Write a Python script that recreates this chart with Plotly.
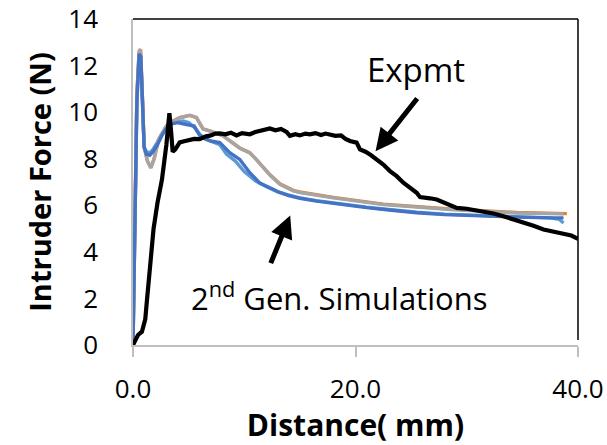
import plotly.graph_objects as go

# Experimental force-distance trace
exp_x = [0, 0.45, 0.8, 1.1, 1.25, 1.5, 1.85, 2.2, 2.6, 3.0, 3.27, 3.4, 3.57, 3.8, 4.2, 4.6,
         5.0, 5.5, 6.0, 6.5, 7.0, 7.4, 7.8, 8.3, 8.8, 9.3, 9.8, 10.5, 11.0, 11.5, 12.0, 12.3,
         12.8, 13.3, 13.8, 14.1, 14.6, 15.0, 15.5, 15.9, 16.4, 16.9, 17.3, 17.7, 18.2, 18.7,
         19.1, 19.5, 19.8, 20.1, 20.4, 20.9, 21.4, 21.9, 22.5, 23.1, 23.7, 24.3, 24.9, 25.5,
         25.8, 26.1, 26.7, 27.3, 28.2, 29.1, 30.0, 30.8, 31.5, 32.4, 33.3, 34.2, 35.1, 36.0,
         36.9, 37.8, 38.7, 39.4, 40.0]
exp_y = [0, 0.43, 0.57, 1.1, 1.9, 3.3, 5.0, 6.1, 7.1, 8.6, 9.95, 9.3, 8.3, 8.4, 8.7, 8.75,
         8.8, 8.85, 8.84, 8.95, 9.0, 9.08, 9.09, 9.05, 9.12, 9.0, 9.1, 9.05, 9.15, 9.2, 9.27, 9.3,
         9.22, 9.28, 9.15, 8.98, 9.05, 9.0, 9.08, 9.05, 9.1, 9.02, 9.08, 9.05, 8.98, 9.0,
         8.85, 8.76, 8.72, 8.69, 8.4, 8.3, 8.15, 7.97, 7.75, 7.47, 7.25, 6.97, 6.78, 6.54,
         6.35, 6.32, 6.3, 6.25, 6.08, 5.89, 5.85, 5.78, 5.75, 5.65, 5.53, 5.4, 5.24, 5.12,
         4.96, 4.85, 4.74, 4.7, 4.56]

# 2nd generation simulations
sim1_x = [0, 0.15, 0.35, 0.55, 0.7, 0.85, 1.0, 1.2, 1.5, 1.8, 2.2, 2.6, 3.0, 3.5, 4.0, 4.5,
          5.0, 5.5, 6.0, 6.5, 7.0, 7.8, 8.7, 9.6, 10.5, 11.4, 12.3, 13.2, 14.0, 15.0, 16.5,
          18.0, 19.5, 21.0, 23.0, 25.5, 28.0, 31.5, 34.5, 37.5, 38.7]
sim1_y = [0, 4.0, 10.5, 12.5, 12.4, 10.5, 8.5, 8.2, 8.15, 8.3, 8.6, 9.0, 9.3, 9.5, 9.55, 9.5,
          9.45, 9.4, 9.0, 8.85, 8.76, 8.69, 8.26, 7.97, 7.4, 6.95, 6.75, 6.55, 6.42, 6.3, 6.18,
          6.08, 5.98, 5.9, 5.8, 5.68, 5.6, 5.53, 5.49, 5.46, 5.46]

sim2_x = [0, 0.15, 0.35, 0.55, 0.68, 0.85, 1.0, 1.3, 1.6, 1.9, 2.3, 3.0, 3.6, 4.2, 5.1, 5.7,
          6.3, 6.9, 8.1, 9.6, 10.5, 11.1, 11.7, 12.3, 13.2, 14.4, 15.0, 18.0, 22.5, 28.5,
          34.5, 39.0]
sim2_y = [0, 4.2, 10.8, 12.6, 12.7, 10.6, 8.5, 7.9, 7.62, 8.0, 8.82, 9.4, 9.62, 9.76, 9.86,
          9.76, 9.28, 9.2, 8.98, 8.46, 8.26, 7.96, 7.62, 7.32, 6.92, 6.64, 6.57, 6.34, 6.05,
          5.84, 5.69, 5.64]

sim3_x = [0, 0.15, 0.35, 0.55, 0.66, 0.85, 1.0, 1.3, 1.6, 1.9, 2.3, 3.0, 3.6, 4.2, 5.1, 5.7,
          6.3, 6.9, 8.1, 9.6, 10.5, 11.1, 11.7, 12.3, 13.2, 14.4, 15.0, 18.0, 22.5, 28.5,
          34.5, 38.7]
sim3_y = [0, 4.2, 10.8, 12.6, 12.7, 10.6, 8.5, 7.9, 7.6, 8.0, 8.84, 9.41, 9.62, 9.77, 9.87,
          9.77, 9.27, 9.2, 8.98, 8.45, 8.25, 7.95, 7.6, 7.3, 6.9, 6.62, 6.55, 6.32, 6.03,
          5.82, 5.67, 5.63]

sim4_x = [0, 0.15, 0.35, 0.55, 0.7, 0.85, 1.0, 1.2, 1.5, 1.8, 2.2, 2.6, 3.0, 3.5, 4.0, 4.5,
          5.0, 5.5, 6.0, 6.5, 7.0, 7.8, 8.4, 9.2, 10.0, 11.0, 12.0, 13.0, 14.0, 15.0, 16.5,
          18.0, 19.5, 21.0, 23.0, 25.5, 28.0, 31.5, 34.5, 37.5, 38.3, 38.7]
sim4_y = [0, 4.0, 10.4, 12.45, 12.35, 10.4, 8.5, 8.3, 8.25, 8.4, 8.7, 9.05, 9.35, 9.55, 9.6,
          9.62, 9.55, 9.35, 9.05, 8.85, 8.75, 8.6, 8.2, 7.9, 7.45, 7.05, 6.8, 6.58, 6.44, 6.32,
          6.2, 6.1, 6.0, 5.92, 5.82, 5.7, 5.62, 5.55, 5.5, 5.46, 5.4, 5.24]

x_ticks = [0, 20, 40]
y_ticks = [0, 2, 4, 6, 8, 10, 12, 14]

FONT = "Open Sans"
AXIS_GRAY = "#BFBFBF"

fig = go.Figure()
series = [
    (sim2_x, sim2_y, "#ED7D31", 3.4),
    (sim4_x, sim4_y, "#5B9BD5", 3.4),
    (sim3_x, sim3_y, "#A5A5A5", 3.4),
    (sim1_x, sim1_y, "#4472C4", 3.4),
    (exp_x, exp_y, "#000000", 4.2),
]
for xs, ys, col, w in series:
    fig.add_trace(go.Scatter(x=xs, y=ys, mode="lines",
                             line=dict(color=col, width=w), showlegend=False))

fig.update_layout(
    width=607, height=445,
    margin=dict(l=133, r=29, t=19, b=100),
    plot_bgcolor="white", paper_bgcolor="white",
    font=dict(family=FONT, color="black", size=26),
    xaxis=dict(range=[0, 40], tickvals=x_ticks, tickformat=".1f", automargin="bottom",
               showgrid=False, zeroline=False, showline=True, linecolor=AXIS_GRAY,
               linewidth=1.5, ticks="outside", ticklen=10, tickcolor=AXIS_GRAY,
               tickwidth=1.5, ticklabelstandoff=10,
               title=dict(text="<b>Distance( mm)</b>", font=dict(size=30), standoff=7)),
    xaxis2=dict(range=[0, 40], overlaying="x", matches="x", anchor="y", side="bottom",
                tickvals=x_ticks, showticklabels=False, showgrid=False, zeroline=False,
                showline=False, ticks="inside", ticklen=8, tickcolor=AXIS_GRAY, tickwidth=1.5,
                automargin=False),
    yaxis=dict(range=[0, 14], tickvals=y_ticks, showgrid=False, zeroline=False,
               showline=True, linecolor=AXIS_GRAY, linewidth=1.5, ticks="",
               ticklabelstandoff=28, automargin=False,
               title=dict(text="<b>Intruder Force (N)</b>", font=dict(size=29), standoff=8)),
    shapes=[
        dict(type="line", xref="paper", yref="paper", x0=0, x1=1, y0=1, y1=1,
             line=dict(color="black", width=1.5)),
        dict(type="line", xref="paper", yref="paper", x0=1, x1=1, y0=0.015, y1=1,
             line=dict(color="black", width=1.5)),
    ],
    annotations=[
        dict(x=21.8, y=8.32, ax=25.65, ay=10.65, xref="x", yref="y", axref="x", ayref="y",
             showarrow=True, arrowhead=2, arrowsize=0.9, arrowwidth=5, arrowcolor="black",
             text=""),
        dict(x=14.13, y=5.56, ax=12.33, ay=3.45, xref="x", yref="y", axref="x", ayref="y",
             showarrow=True, arrowhead=2, arrowsize=0.9, arrowwidth=5, arrowcolor="black",
             text=""),
        dict(x=25.45, y=11.83, xref="x", yref="y", text="Expmt", showarrow=False,
             font=dict(size=33)),
        dict(x=18.55, y=2.1, xref="x", yref="y",
             text="2<sup>nd</sup> Gen. Simulations", showarrow=False,
             font=dict(size=31)),
    ],
)

fig.write_html("out.html")
